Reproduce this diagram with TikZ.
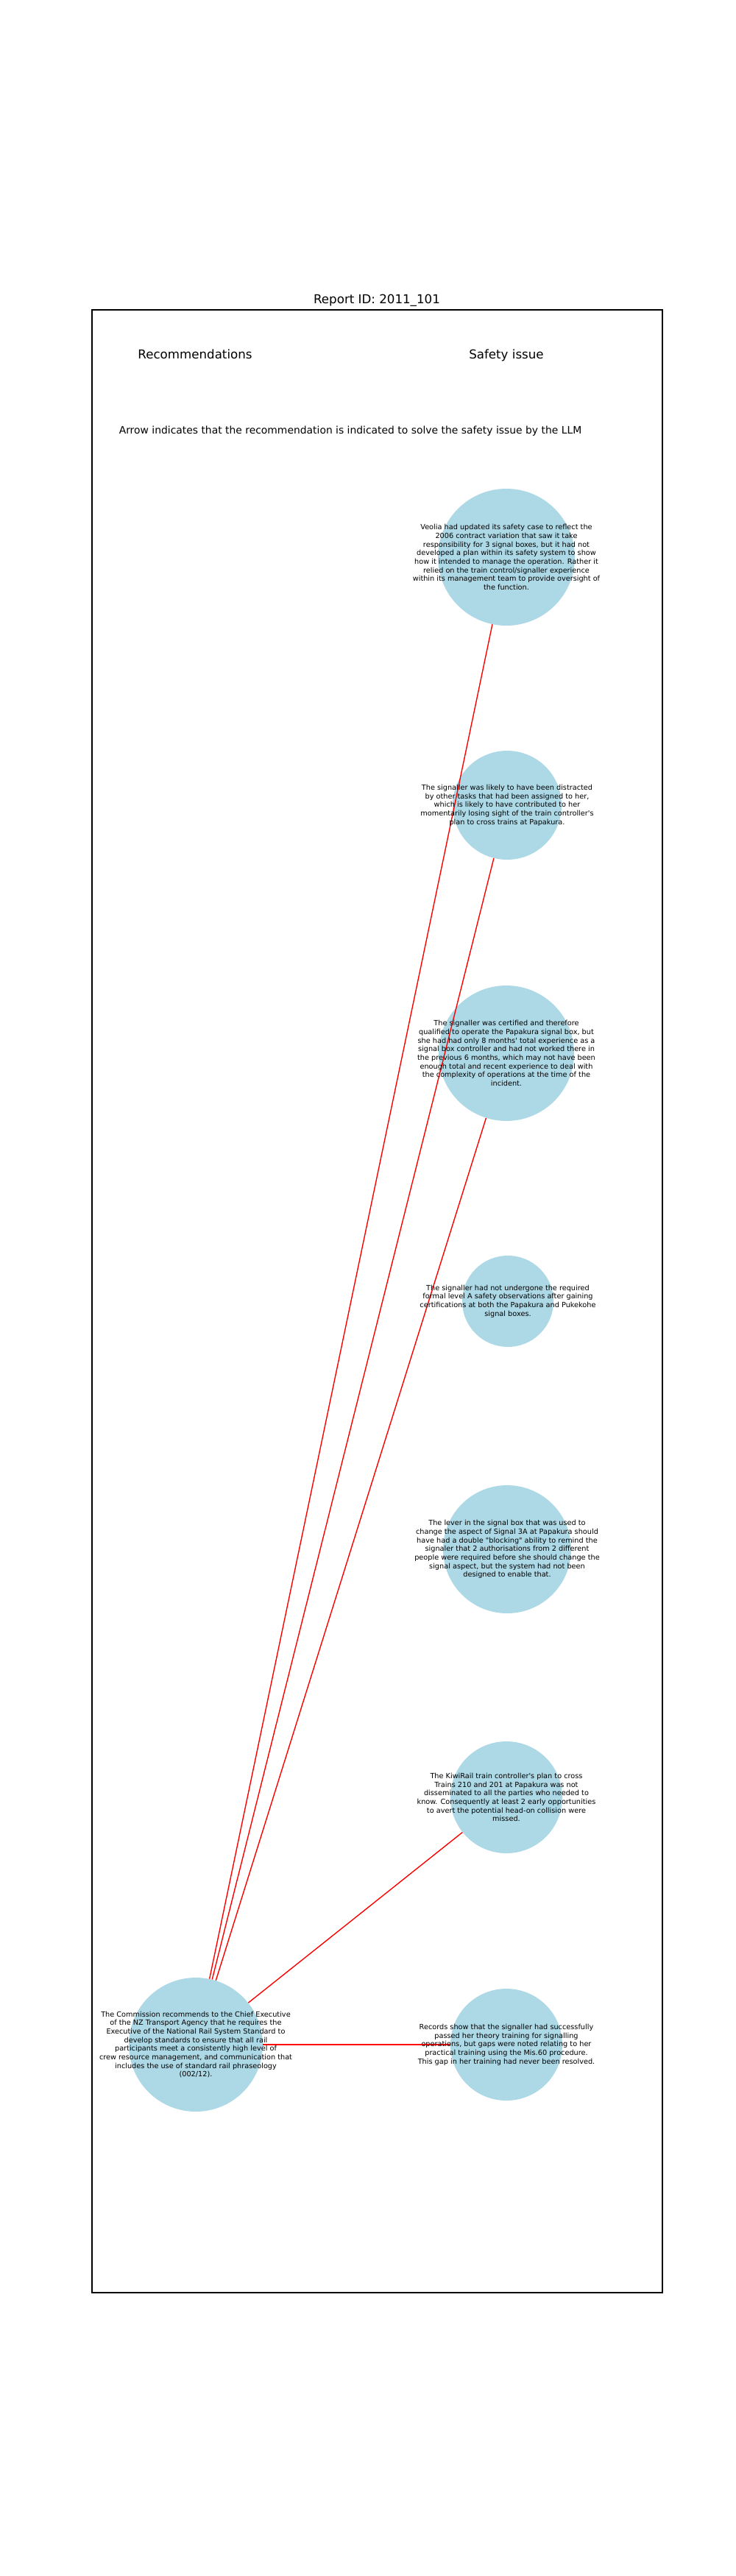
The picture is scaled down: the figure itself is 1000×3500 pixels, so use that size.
\documentclass[tikz,border=0pt]{standalone}
\usepackage{fontspec}
\newfontfamily\plotfont{DejaVu Sans}
\usetikzlibrary{positioning}
\definecolor{bubbleblue}{HTML}{ADD8E6}
\tikzset{
    % Define style for the circles
    bubble/.style={
           circle,
           fill=bubbleblue,
           inner sep=0pt,
           minimum size={1.44pt*#1}},
    % Define style for the text in the circles
    bubbletext/.style={
           font=\plotfont\fontsize{7}{8.4}\selectfont,
           align=center,
           inner sep=0pt},
    % Define style for titles
    title/.style={
           font=\plotfont\fontsize{12}{14.4}\selectfont,
           anchor=base,
           inner sep=0pt},
    note/.style={
           font=\plotfont\fontsize{10}{12}\selectfont,
           anchor=base,
           inner sep=0pt},
    % Define line style
    pil/.style={
           red,
           line width=1pt}
}

\begin{document}
\begin{tikzpicture}[x=0.72pt, y=-0.72pt]
    \useasboundingbox (0,0) rectangle (1000,3500);

    % headings
    \node[title] (report) at (512,412) {Report ID: 2011\_101};
    \draw[line width=0.8pt] (125,421) rectangle (900,3115);
    \node[title] (rectitle) at (265,487) {Recommendations};
    \node[title] (issuetitle) at (688,487) {Safety issue};
    \node[note] (legend) at (476,589) {Arrow indicates that the recommendation is indicated to solve the safety issue by the LLM};

    % recommendation
    \node[bubble=91] (rec) at (266,2778) {};

    % safety issues
    \node[bubble=93] (s1) at (688,757) {};
    \node[bubble=74] (s2) at (689,1094) {};
    \node[bubble=92] (s3) at (688,1431) {};
    \node[bubble=62] (s4) at (690,1768) {};
    \node[bubble=87] (s5) at (689,2105) {};
    \node[bubble=76] (s6) at (688,2442) {};
    \node[bubble=76] (s7) at (688,2778) {};

    % edges
    \path[pil] (rec) edge (s1)
               (rec) edge (s2)
               (rec) edge (s3)
               (rec) edge (s6)
               (rec) edge (s7);

    % texts
    \node[bubbletext] (rectext) at (rec) {The Commission recommends to the Chief Executive\\of the NZ Transport Agency that he requires the\\Executive of the National Rail System Standard to\\develop standards to ensure that all rail\\participants meet a consistently high level of\\crew resource management, and communication that\\includes the use of standard rail phraseology\\(002/12).};
    \node[bubbletext] (s1text) at (s1) {Veolia had updated its safety case to reflect the\\2006 contract variation that saw it take\\responsibility for 3 signal boxes, but it had not\\developed a plan within its safety system to show\\how it intended to manage the operation. Rather it\\relied on the train control/signaller experience\\within its management team to provide oversight of\\the function.};
    \node[bubbletext] (s2text) at (s2) {The signaller was likely to have been distracted\\by other tasks that had been assigned to her,\\which is likely to have contributed to her\\momentarily losing sight of the train controller's\\plan to cross trains at Papakura.};
    \node[bubbletext] (s3text) at (s3) {The signaller was certified and therefore\\qualified to operate the Papakura signal box, but\\she had had only 8 months' total experience as a\\signal box controller and had not worked there in\\the previous 6 months, which may not have been\\enough total and recent experience to deal with\\the complexity of operations at the time of the\\incident.};
    \node[bubbletext] (s4text) at (s4) {The signaller had not undergone the required\\formal level A safety observations after gaining\\certifications at both the Papakura and Pukekohe\\signal boxes.};
    \node[bubbletext] (s5text) at (s5) {The lever in the signal box that was used to\\change the aspect of Signal 3A at Papakura should\\have had a double "blocking" ability to remind the\\signaler that 2 authorisations from 2 different\\people were required before she should change the\\signal aspect, but the system had not been\\designed to enable that.};
    \node[bubbletext] (s6text) at (s6) {The KiwiRail train controller's plan to cross\\Trains 210 and 201 at Papakura was not\\disseminated to all the parties who needed to\\know. Consequently at least 2 early opportunities\\to avert the potential head-on collision were\\missed.};
    \node[bubbletext] (s7text) at (s7) {Records show that the signaller had successfully\\passed her theory training for signalling\\operations, but gaps were noted relating to her\\practical training using the Mis.60 procedure.\\This gap in her training had never been resolved.};
\end{tikzpicture}
\end{document}
